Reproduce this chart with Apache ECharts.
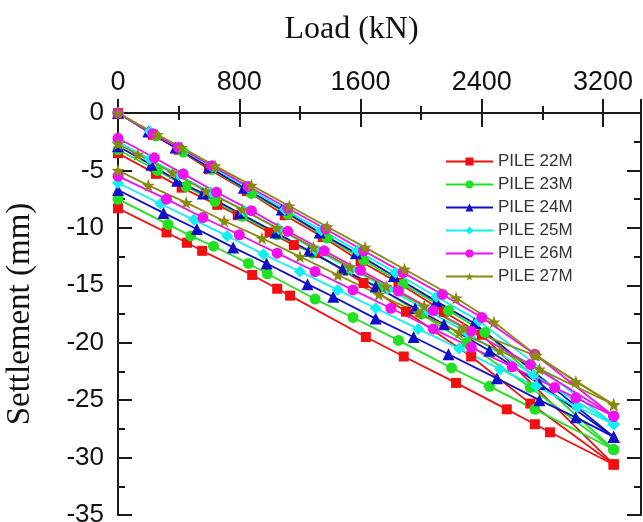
<!DOCTYPE html>
<html>
<head>
<meta charset="utf-8">
<script src="https://cdn.jsdelivr.net/npm/echarts@6/dist/echarts.min.js"></script>
<style>
  html, body { margin: 0; padding: 0; background: #ffffff; }
  #chart { width: 643px; height: 522px; }
</style>
</head>
<body>
<div id="chart"></div>
<script>
// Load–settlement records, [load kN, settlement mm], three branches per pile
const pileNames = ['PILE 22M', 'PILE 23M', 'PILE 24M', 'PILE 25M', 'PILE 26M', 'PILE 27M'];

const pile22Top = [[0,0],[230,-1.9],[400,-3.2],[600,-4.9],[850,-6.8],[1100,-8.9],[1350,-10.8],[1600,-12.9],[1850,-14.8],[2150,-17.3],[2400,-19.3],[3270,-30.6]];
const pile22Mid = [[0,-3.5],[250,-5.3],[420,-6.5],[655,-8.0],[790,-8.9],[1000,-10.4],[1160,-11.5],[1300,-12.2],[1620,-14.8],[1900,-17.3],[2330,-21.2],[2720,-25.3],[3270,-30.6]];
const pile22Low = [[0,-8.3],[320,-10.4],[455,-11.3],[555,-12.0],[885,-14.1],[1050,-15.3],[1135,-15.9],[1635,-19.5],[1885,-21.2],[2230,-23.5],[2565,-25.8],[2750,-27.1],[2850,-27.8],[3270,-30.6]];

const pile23Top = [[0,0],[250,-2.0],[430,-3.4],[620,-4.9],[880,-7.0],[1120,-8.8],[1380,-10.9],[1620,-12.8],[1880,-14.9],[2180,-17.2],[2420,-19.1],[3270,-29.3]];
const pile23Mid = [[0,-3.2],[260,-5.0],[450,-6.4],[640,-7.7],[820,-9.0],[1050,-10.6],[1280,-12.2],[1500,-13.7],[1720,-15.2],[2000,-17.5],[2300,-20.0],[2720,-23.9],[3270,-29.3]];
const pile23Low = [[0,-7.5],[330,-9.7],[480,-10.7],[630,-11.6],[860,-13.1],[985,-14.0],[1300,-16.2],[1550,-17.8],[1850,-19.8],[2200,-22.2],[2450,-23.8],[2750,-25.8],[3270,-29.3]];

const pile24Top = [[0,0],[200,-1.6],[380,-3.0],[600,-4.7],[830,-6.5],[1080,-8.4],[1330,-10.4],[1570,-12.2],[1820,-14.2],[2100,-16.4],[2350,-18.3],[3270,-28.2]];
const pile24Mid = [[0,-2.9],[220,-4.5],[390,-5.9],[560,-7.0],[800,-8.7],[1040,-10.4],[1260,-12.0],[1480,-13.6],[1700,-15.1],[1960,-17.0],[2150,-18.4],[2450,-20.7],[2780,-23.6],[3270,-28.2]];
const pile24Low = [[0,-6.7],[300,-8.7],[520,-10.1],[760,-11.7],[980,-13.1],[1250,-14.9],[1420,-16.0],[1700,-17.9],[1950,-19.5],[2180,-21.0],[2500,-23.1],[2780,-25.0],[3020,-26.5],[3270,-28.2]];

const pile25Top = [[0,0],[210,-1.6],[400,-3.0],[620,-4.7],[860,-6.5],[1100,-8.4],[1340,-10.2],[1580,-12.0],[1830,-13.9],[2100,-16.0],[2380,-18.1],[3270,-27.1]];
const pile25Mid = [[0,-2.5],[210,-4.0],[400,-5.4],[610,-6.9],[830,-8.5],[1060,-10.1],[1300,-11.9],[1540,-13.6],[1780,-15.3],[2040,-17.2],[2300,-19.1],[2740,-22.8],[3270,-27.1]];
const pile25Low = [[0,-6.1],[280,-7.9],[500,-9.3],[720,-10.7],[960,-12.3],[1200,-13.8],[1450,-15.4],[1700,-17.0],[1980,-18.8],[2250,-20.5],[2520,-22.3],[2760,-23.8],[3030,-25.6],[3270,-27.1]];

const pile26Top = [[0,0],[230,-1.8],[400,-3.0],[620,-4.6],[860,-6.4],[1120,-8.3],[1370,-10.1],[1620,-12.0],[1880,-13.9],[2140,-15.8],[2400,-17.8],[2750,-21.0],[3270,-26.4]];
const pile26Mid = [[0,-2.2],[240,-3.9],[430,-5.3],[650,-6.9],[880,-8.5],[1120,-10.3],[1360,-12.0],[1600,-13.7],[1850,-15.5],[2080,-17.2],[2330,-19.0],[2720,-21.9],[3270,-26.4]];
const pile26Low = [[0,-5.5],[320,-7.5],[560,-9.1],[800,-10.6],[1050,-12.2],[1300,-13.8],[1550,-15.4],[1800,-17.0],[2080,-18.8],[2330,-20.4],[2600,-22.1],[2880,-23.9],[3020,-24.8],[3270,-26.4]];

const pile27Top = [[0,0],[260,-1.9],[420,-3.0],[640,-4.6],[880,-6.3],[1130,-8.1],[1380,-9.9],[1630,-11.7],[1890,-13.6],[2230,-16.1],[2480,-18.2],[2760,-21.1],[3020,-23.4],[3270,-25.4]];
const pile27Mid = [[0,-2.7],[130,-3.6],[360,-5.2],[580,-6.8],[820,-8.4],[1050,-10.0],[1290,-11.7],[1530,-13.4],[1770,-15.1],[2020,-16.8],[2280,-18.7],[2750,-21.1],[3270,-25.4]];
const pile27Low = [[0,-5.0],[200,-6.3],[450,-7.8],[700,-9.4],[950,-10.9],[1200,-12.5],[1450,-14.1],[1720,-15.8],[1980,-17.4],[2250,-19.1],[2520,-20.7],[2780,-22.3],[3270,-25.4]];

const pileBranches = [
  [pile22Top, pile22Mid, pile22Low],
  [pile23Top, pile23Mid, pile23Low],
  [pile24Top, pile24Mid, pile24Low],
  [pile25Top, pile25Mid, pile25Low],
  [pile26Top, pile26Mid, pile26Low],
  [pile27Top, pile27Mid, pile27Low]
];

// Marker look for each pile
const STAR = 'path://M0,-10L2.35,-3.24L9.51,-3.09L3.8,1.24L5.88,8.09L0,4L-5.88,8.09L-3.8,1.24L-9.51,-3.09L-2.35,-3.24Z';
const pileStyles = [
  { color: '#f01010', symbol: 'rect', size: 10 },
  { color: '#22e022', symbol: 'circle', size: 11 },
  { color: '#1010c8', symbol: 'triangle', size: 12 },
  { color: '#10f0f0', symbol: 'diamond', size: 12 },
  { color: '#f010f0', symbol: 'circle', size: 11 },
  { color: '#8a8a10', symbol: STAR, size: 13 }
];

const series = [];
pileBranches.forEach((branches, i) => {
  const st = pileStyles[i];
  branches.forEach(data => {
    series.push({
      name: pileNames[i],
      type: 'line',
      data: data,
      symbol: st.symbol,
      symbolSize: st.size,
      showAllSymbol: true,
      itemStyle: { color: st.color },
      lineStyle: { color: st.color, width: 1.8 },
      emphasis: { disabled: true }
    });
  });
});

const axisColor = '#1a1a1a';
const tickStyle = { show: true, inside: true, length: 14, lineStyle: { color: axisColor, width: 2 } };
const minorStyle = { show: true, splitNumber: 2, length: 7, lineStyle: { color: axisColor, width: 2 } };

const chart = echarts.init(document.getElementById('chart'), null, { renderer: 'canvas' });
chart.setOption({
  animation: false,
  backgroundColor: '#ffffff',
  grid: { left: 118, right: 2, top: 113, bottom: 7, containLabel: false, outerBoundsMode: 'none' },
  legend: {
    data: pileNames,
    orient: 'vertical',
    left: 440,
    top: 148,
    itemWidth: 47,
    itemHeight: 10,
    itemGap: 6,
    textStyle: { fontFamily: 'Liberation Sans', fontSize: 17, color: '#333333' }
  },
  xAxis: [
    {
      type: 'value', position: 'top', min: 0, max: 3450, interval: 800,
      name: 'Load (kN)', nameLocation: 'middle', nameGap: 67,
      nameTextStyle: { fontFamily: 'Liberation Serif', fontSize: 32, color: '#111111', padding: [0, 56, 0, 0] },
      axisLine: { show: true, lineStyle: { color: axisColor, width: 2 } },
      axisTick: tickStyle, minorTick: minorStyle,
      axisLabel: { fontFamily: 'Liberation Sans', fontSize: 27, color: '#111111', margin: 17, showMaxLabel: false, formatter: v => String(v) },
      splitLine: { show: false }
    },
    {
      type: 'value', position: 'bottom', min: 0, max: 3450, interval: 800,
      axisLine: { show: true, lineStyle: { color: axisColor, width: 2 } },
      axisTick: tickStyle, minorTick: minorStyle,
      axisLabel: { show: false }, splitLine: { show: false }
    }
  ],
  yAxis: [
    {
      type: 'value', position: 'left', min: -35, max: 0, interval: 5,
      name: 'Settlement (mm)', nameLocation: 'middle', nameGap: 81,
      nameTextStyle: { fontFamily: 'Liberation Serif', fontSize: 33, color: '#111111' },
      axisLine: { show: true, onZero: false, lineStyle: { color: axisColor, width: 2 } },
      axisTick: tickStyle, minorTick: minorStyle,
      axisLabel: { fontFamily: 'Liberation Sans', fontSize: 26, color: '#111111', margin: 14 },
      splitLine: { show: false }
    },
    {
      type: 'value', position: 'right', min: -35, max: 0, interval: 5,
      axisLine: { show: true, onZero: false, lineStyle: { color: axisColor, width: 2 } },
      axisTick: tickStyle, minorTick: minorStyle,
      axisLabel: { show: false }, splitLine: { show: false }
    }
  ],
  series: series
});
</script>
</body>
</html>
